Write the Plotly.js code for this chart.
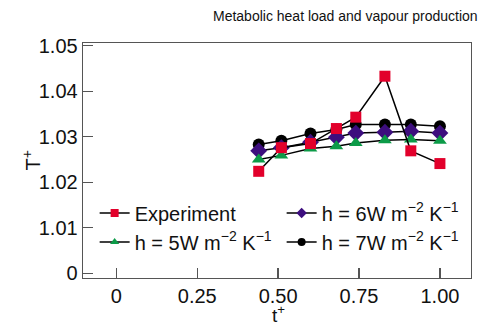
<!DOCTYPE html>
<html>
<head>
<meta charset="utf-8">
<script src="https://cdn.plot.ly/plotly-3.0.1.min.js"></script>
<style>html,body{margin:0;padding:0;background:#fff;}#chart{width:481px;height:327px;}</style>
</head>
<body>
<div id="chart"></div>
<script>
const tPlus = [0.44, 0.51, 0.60, 0.68, 0.74, 0.83, 0.91, 1.00];
const experiment = [1.0224, 1.0276, 1.0285, 1.0318, 1.0343, 1.0433, 1.0269, 1.0241];
const h5 = [1.0250, 1.0259, 1.0274, 1.0279, 1.0286, 1.0292, 1.0294, 1.0291];
const h6 = [1.0269, 1.0276, 1.0288, 1.0299, 1.0308, 1.0310, 1.0312, 1.0308];
const h7 = [1.0283, 1.0291, 1.0307, 1.0316, 1.0327, 1.0327, 1.0327, 1.0323];
const seriesNames = ['Experiment', 'h = 5W m<sup>−2</sup> K<sup>−1</sup>',
                     'h = 6W m<sup>−2</sup> K<sup>−1</sup>', 'h = 7W m<sup>−2</sup> K<sup>−1</sup>'];
const xTickVals = [0, 0.25, 0.5, 0.75, 1.0];
const xTickText = ['0', '0.25', '0.50', '0.75', '1.00'];
const yTickVals = [1.00, 1.01, 1.02, 1.03, 1.04, 1.05];
const yTickText = ['0', '1.01', '1.02', '1.03', '1.04', '1.05'];
const xTitle = 't<sup>+</sup>';
const yTitle = 'T<sup>+</sup>';

const font = 'Liberation Sans, Arial, sans-serif';
const lineStyle = {color: '#000', width: 1.5};
const styles = [
  {symbol: 'square', size: 11, color: '#e2002b'},
  {symbol: 'triangle-up', size: 12, color: '#0c9b48'},
  {symbol: 'diamond', size: 13, color: '#3d0e7e'},
  {symbol: 'circle', size: 12, color: '#000'}
];
const values = [experiment, h5, h6, h7];

// plotted traces (black underneath, red on top), no legend
const drawOrder = [3, 2, 1, 0];
const traces = drawOrder.map(i => ({
  x: tPlus, y: values[i], name: seriesNames[i], mode: 'lines+markers', showlegend: false,
  line: lineStyle, marker: {symbol: styles[i].symbol, size: styles[i].size, color: styles[i].color}
}));
// legend entries with smaller symbols, order: Experiment, h6, h5, h7 (2 columns)
[0, 2, 1, 3].forEach(i => {
  traces.push({x: [null], y: [null], name: seriesNames[i], mode: 'lines+markers', showlegend: true,
    line: lineStyle, marker: {symbol: styles[i].symbol, size: 8, color: styles[i].color}});
});

const layout = {
  width: 481, height: 327,
  margin: {l: 83, r: 10, t: 43, b: 49},
  paper_bgcolor: '#fff', plot_bgcolor: '#fff',
  font: {family: font, size: 20, color: '#111'},
  title: {text: 'Metabolic heat load and vapour production', font: {size: 14, color: '#111'},
          xref: 'container', x: 0.993, xanchor: 'right', yref: 'container', y: 0.95, yanchor: 'middle'},
  xaxis: {range: [-0.103, 1.096], tickvals: xTickVals, ticktext: xTickText,
          showgrid: false, zeroline: false, showline: true, mirror: true, linecolor: '#555', linewidth: 1.3,
          ticks: 'inside', ticklen: 10, tickcolor: '#555', tickwidth: 1.3},
  yaxis: {range: [0.99895, 1.0506], tickvals: yTickVals, ticktext: yTickText,
          showgrid: false, zeroline: false, showline: true, mirror: true, linecolor: '#555', linewidth: 1.3,
          ticks: 'inside', ticklen: 10, tickcolor: '#555', tickwidth: 1.3},
  annotations: [
    {text: xTitle, xref: 'paper', yref: 'paper', x: 0.505, y: 0, xanchor: 'center', yanchor: 'middle',
     yshift: -36, showarrow: false, font: {size: 19}},
    {text: yTitle, xref: 'paper', yref: 'paper', x: 0, y: 0.5, xanchor: 'center', yanchor: 'middle',
     xshift: -52, textangle: -90, showarrow: false, font: {size: 20}}
  ],
  showlegend: true,
  legend: {orientation: 'h', x: 0.03, y: 0.07, xanchor: 'left', yanchor: 'bottom',
           bgcolor: 'rgba(0,0,0,0)', entrywidth: 142, itemgap: 0,
           font: {size: 20}, traceorder: 'normal', tracegroupgap: 0}
};

Plotly.newPlot('chart', traces, layout, {displayModeBar: false, staticPlot: true});
</script>
</body>
</html>
